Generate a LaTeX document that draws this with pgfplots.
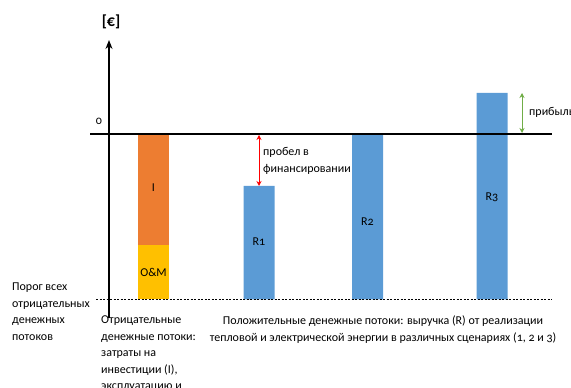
\documentclass[border=0pt]{standalone}
\usepackage{fontspec}
\setmainfont{Carlito}[Numbers=OldStyle]
\usepackage{pgfplots}
\pgfplotsset{compat=1.18}
\usetikzlibrary{arrows.meta}
\definecolor{cOrange}{HTML}{ED7D31}
\definecolor{cYellow}{HTML}{FFC000}
\definecolor{cBlue}{HTML}{5B9BD5}
\definecolor{cGreen}{HTML}{70AD47}
\begin{document}
\begin{tikzpicture}
\begin{axis}[
  width=571pt, height=388pt, scale only axis,
  xmin=0, xmax=571, ymin=-88.5, ymax=299.5,
  hide axis, clip=false,
  font=\fontsize{12}{16.5}\selectfont,
]
% bars (baseline = threshold of all negative cash flows)
\addplot[ybar, bar width=31, bar shift=0pt, fill=cOrange, draw=none] coordinates {(153.5,165.5)};
\addplot[ybar, bar width=31, bar shift=0pt, fill=cYellow, draw=none] coordinates {(153.5,54.5)};
\addplot[ybar, bar width=31, bar shift=0pt, fill=cBlue, draw=none] coordinates {(259,113.5) (367.5,165.5) (492,206.5)};
% zero line
\addplot[black, line width=2pt] coordinates {(90,165.5) (552,165.5)};
% threshold dashed line
\addplot[black, densely dashed, line width=0.6pt, dash pattern=on 2pt off 1.5pt] coordinates {(96,0) (552,0)};
% y axis
\addplot[black, line width=1.2pt, -{Stealth[length=9pt,width=7pt]}] coordinates {(109,-18.5) (109,259.5)};
% gap and profit arrows
\addplot[red, line width=0.8pt, {Stealth[length=5pt,width=5pt]}-{Stealth[length=5pt,width=5pt]}] coordinates {(259,164.5) (259,113.5)};
\addplot[cGreen, line width=0.8pt, {Stealth[length=5pt,width=5pt]}-{Stealth[length=5pt,width=5pt]}] coordinates {(522,206.5) (522,166.5)};
% labels
\node[font=\fontsize{16}{18}\selectfont\bfseries] at (axis cs:111,277.5) {[€]};
\node at (axis cs:99,178) {0};
\node at (axis cs:153.5,111.5) {I};
\node at (axis cs:153.5,27.5) {O\&M};
\node at (axis cs:259,57.5) {R1};
\node at (axis cs:367.5,77.5) {R2};
\node at (axis cs:492,102.5) {R3};
\node[anchor=west, align=left, inner sep=0pt] at (axis cs:263,138.5) {пробел в\\финансировании};
\node[anchor=west, inner sep=0pt] at (axis cs:529,187.5) {прибыль};
\node[anchor=west, align=left, inner sep=0pt] at (axis cs:12,-12) {Порог всех\\отрицательных\\денежных\\потоков};
\node[anchor=north west, align=left, inner sep=0pt] at (axis cs:101,-16.5) {Отрицательные\\денежные потоки:\\затраты на\\инвестиции (I),\\эксплуатацию и};
\node[anchor=north, align=center, inner sep=0pt] at (axis cs:383,-16.5) {Положительные денежные потоки: выручка (R) от реализации\\тепловой и электрической энергии в различных сценариях (1, 2 и 3)};
\end{axis}
\pgfresetboundingbox
\path (current axis.south west) rectangle (current axis.north east);
\end{tikzpicture}
\end{document}
